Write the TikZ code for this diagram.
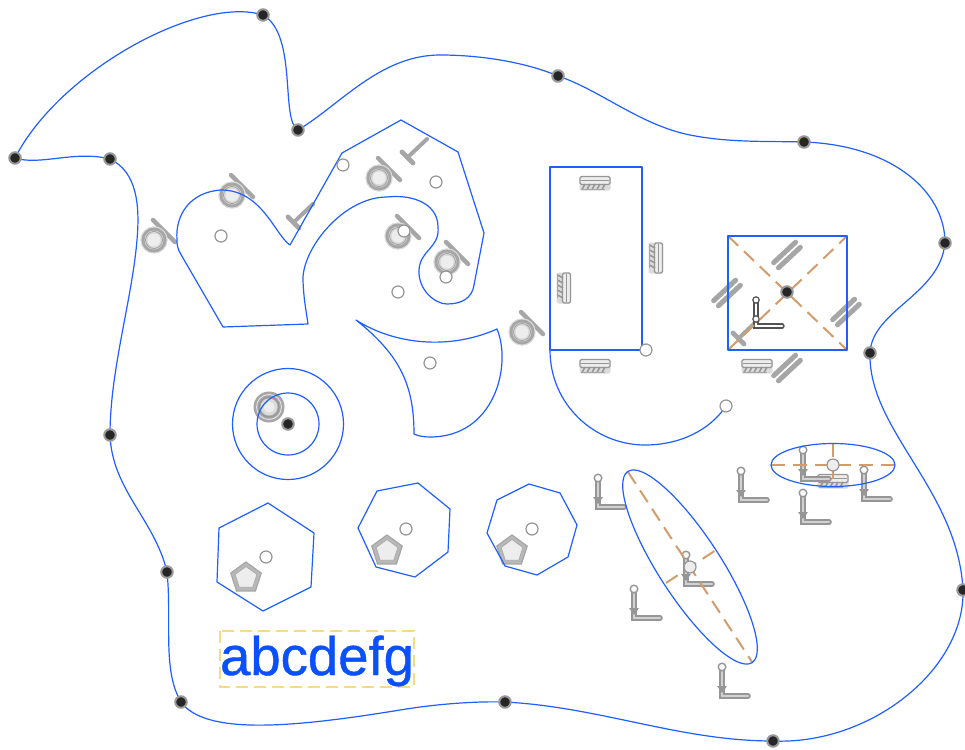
\documentclass[tikz,border=0pt]{standalone}
\usepackage{fontspec}
\setmainfont[FakeBold=0.8]{Liberation Sans}
\usetikzlibrary{shapes.geometric}
\definecolor{cblue}{HTML}{1F5FFF}
\definecolor{ctext}{HTML}{0A50FF}
\definecolor{corange}{HTML}{D29C6C}
\definecolor{cyell}{HTML}{F8D98A}
\definecolor{cgrey}{HTML}{A6A6A6}
\definecolor{cgreyd}{HTML}{969696}
\definecolor{cpale}{HTML}{EDEDED}
\tikzset{
  contour/.style={draw=cblue,line width=1.2pt,line join=round},
  axisline/.style={draw=corange,line width=2pt,dash pattern=on 14pt off 8pt},
  whitedot/.style={circle,draw=cgreyd,line width=1.2pt,fill=white,minimum size=12pt,inner sep=0pt},
  ivorydot/.style={circle,draw=cgreyd,line width=1.2pt,fill=cpale,minimum size=12pt,inner sep=0pt},
  blackdot/.style={circle,draw=black!40,line width=2pt,fill=black!85,minimum size=11.5pt,inner sep=0pt},
  iconbar/.style={draw=cgrey,line width=4.5pt,line cap=round},
  tangicon/.pic={
    \path[iconbar] (-1,-20) -- (21,2);
    \path[draw=cgrey!40,line width=1.4pt,fill=none] (0,0) circle (13);
    \fill[cgrey] (0,0) circle (12.5);
    \fill[cgrey!45] (0,0) circle (9.5);
    \draw[cgreyd,line width=0.6pt] (0,0) circle (8.5);
    \fill[cpale] (0,0) circle (6.5);
  },
  ticon/.pic={
    \path[iconbar,line width=4pt] (19,-18) -- (0,0);
    \path[iconbar,line width=4.8pt] (-6,-5) -- (5,6);
  },
  paricon/.pic={
    \path[iconbar,line width=5pt] (-15,-3.5) -- (15,-3.5);
    \path[iconbar,line width=5pt] (-15,3.5) -- (15,3.5);
  },
  hatchicon/.pic={
    \fill[cgrey!40,rounded corners=2pt] (-15.5,-7) rectangle (15.5,7.5);
    \draw[cgreyd,line width=1.2pt,fill=cpale,rounded corners=1.5pt] (-15,-6.5) rectangle (15,1.5);
    \draw[cgreyd,line width=1.6pt] (-14,-2.5) -- (14,-2.5);
    \foreach \hx in {-10,-5,0,5,10}{\draw[cgreyd,line width=1.5pt] (\hx,1) -- (\hx-3,6.5);}
    \draw[cgrey,line width=1.4pt] (-14,6.5) -- (10,6.5);
  },
  licon/.pic={
    \draw[cgreyd,line width=5.6pt,line cap=round] (0,-29) -- (0,0) -- (26,0);
    \draw[white!82!black,line width=2.4pt,line cap=round] (0,-29) -- (0,0) -- (26,0);
    \fill[cgreyd] (-5,-10) -- (5,-10) -- (0,-3) -- cycle;
    \draw[cgreyd,line width=1.4pt,fill=white] (0,-29) circle (3.8);
  },
  dlicon/.pic={
    \draw[black!68,line width=5.4pt,line cap=round] (0,-26) -- (0,0) -- (26,0);
    \draw[white,line width=2.6pt,line cap=round] (0,-26) -- (0,0) -- (26,0);
    \draw[black!68,line width=1.2pt,fill=white] (0,-26) circle (3.2);
    \draw[black!68,line width=1.2pt,fill=white] (0,-7) circle (3.2);
  },
  penticon/.pic={
    \node[regular polygon,regular polygon sides=5,minimum size=32pt,inner sep=0pt,draw=cgrey,line width=1.2pt,fill=cgrey!80] at (0,1) {};
    \node[regular polygon,regular polygon sides=5,minimum size=23pt,inner sep=0pt,draw=cgreyd!80,line width=0.8pt,fill=cpale] at (0,1) {};
  },
  ringicon/.pic={
    \fill[cgrey] (0,0) circle (15.5);
    \draw[cgrey!30,line width=0.9pt] (0,0) circle (12.5);
    \draw[cgreyd,line width=1pt] (0,0) circle (10);
    \fill[cgrey!40] (0,0) circle (8.5);
    \fill[cpale] (0,0) circle (5.5);
  },
}
\begin{document}
\begin{tikzpicture}[x=1pt,y=-1pt]
\useasboundingbox[fill=white] (0,0) rectangle (965,749);

% icons (under the contours)
\foreach \ix/\iy in {154/240,232/195,379/178,398/236,447/262,522/332}{\pic at (\ix,\iy) {tangicon};}
\pic at (408,157) {ticon};
\pic at (294,222) {ticon};
\pic at (739,338) {ticon};
\pic[rotate=43] at (787,255) {paricon};
\pic[rotate=43] at (727,293) {paricon};
\pic[rotate=43] at (846,312) {paricon};
\pic[rotate=43] at (787,368) {paricon};
\pic at (595,183) {hatchicon};
\pic at (595,366) {hatchicon};
\pic at (757,366) {hatchicon};
\pic at (833,481) {hatchicon};
\pic[rotate=-90] at (656,258) {hatchicon};
\pic[rotate=-90] at (564,288) {hatchicon};
\foreach \ix/\iy in {598/507,741/500,803/522,803/479,864/499,686/584,634/618,722/696}{\pic at (\ix,\iy) {licon};}
\pic at (756,326) {dlicon};
\foreach \ix/\iy in {246/577,387/550,512/550}{\pic at (\ix,\iy) {penticon};}
\pic at (269,407) {ringicon};

% outer contour
\path[contour] (15,158) .. controls (40,166) and (75,150) .. (110,159)
  .. controls (137,172) and (140,205) .. (137,240)
  .. controls (132,300) and (110,370) .. (110,435)
  .. controls (112,490) and (155,520) .. (167,572)
  .. controls (172,620) and (162,670) .. (181,702)
  .. controls (205,735) and (290,728) .. (400,710)
  .. controls (430,705) and (470,701) .. (505,702)
  .. controls (600,707) and (680,741) .. (773,741)
  .. controls (870,745) and (965,670) .. (963,590)
  .. controls (958,490) and (868,430) .. (870,353)
  .. controls (872,310) and (940,295) .. (945,243)
  .. controls (945,190) and (890,145) .. (804,142)
  .. controls (770,141) and (730,143) .. (690,135)
  .. controls (640,125) and (600,90) .. (558,76)
  .. controls (525,62) and (480,55) .. (440,55)
  .. controls (380,55) and (340,105) .. (298,130)
  .. controls (280,120) and (298,35) .. (263,15)
  .. controls (200,-5) and (60,70) .. (15,158);

% heart / spiral shape
\path[contour] (223,327) -- (308,324)
  .. controls (306,310) and (303,295) .. (303,277)
  .. controls (305,245) and (345,197) .. (387,197)
  .. controls (415,194) and (438,205) .. (438,227)
  .. controls (440,248) and (420,250) .. (419,270)
  .. controls (418,290) and (435,304) .. (447,304)
  .. controls (462,304) and (472,298) .. (474,285)
  -- (484,233) -- (458,152) -- (401,120) -- (342,153) -- (290,245)
  .. controls (275,235) and (262,190) .. (221,190)
  .. controls (190,192) and (175,215) .. (177,240)
  .. controls (177,250) and (180,252) .. (183,258)
  -- cycle;

% sail shape
\path[contour] (356,320) .. controls (395,345) and (450,350) .. (497,329)
  .. controls (512,365) and (495,437) .. (430,437)
  .. controls (424,437) and (418,436) .. (414,434)
  .. controls (414,385) and (400,355) .. (356,320) -- cycle;

% rectangle and arc
\path[contour] (550,167) rectangle (642,350);
\path[contour] (550,350) .. controls (550,405) and (595,445) .. (645,445)
  .. controls (680,445) and (710,430) .. (726,406);

% square
\path[axisline] (728,350) -- (847,236);
\path[axisline] (728,236) -- (847,350);
\path[contour] (728,236) rectangle (847,350);

% ellipses
\path[axisline] (628,472) -- (752,662);
\path[axisline] (666,583) -- (716,550);
\path[contour,rotate around={-57:(690,567)}] (690,567) ellipse [x radius=114,y radius=31];
\path[axisline] (771,465) -- (895,465);
\path[axisline] (833,443) -- (833,487);
\path[contour] (833,465) ellipse [x radius=62,y radius=21.5];

% circles
\path[contour] (288,424) circle (55.5);
\path[contour] (288,424) circle (31);

% polygons
\path[contour] (268,503) -- (314,533) -- (311,587) -- (263,611) -- (217,582) -- (219,528) -- cycle;
\path[contour] (418,483) -- (450,509) -- (448,552) -- (415,577) -- (376,567) -- (358,528) -- (377,491) -- cycle;
\path[contour] (529,484) -- (560,493) -- (577,525) -- (568,557) -- (537,575) -- (505,566) -- (487,533) -- (497,500) -- cycle;

% text
\draw[cyell,line width=1.4pt,dash pattern=on 12pt off 6pt] (220,631) rectangle (414,687);
\node[text=ctext,font=\fontsize{54.5}{60}\selectfont,inner sep=0pt,anchor=base] (label) at (317,675) {abcdefg};

% white points
\foreach \ix/\iy in {221/236,343/165,436/182,404/231,446/277,398/292,430/363,646/350,726/406,266/557,406/529,532/529}{\node[whitedot] at (\ix,\iy) {};}
\node[ivorydot] at (833,465) {};
\node[ivorydot] at (690,567) {};

% black points
\foreach \ix/\iy in {15/158,110/159,263/15,298/130,558/76,804/142,945/243,870/353,963/590,773/741,505/702,181/702,167/572,110/435,288/424,787/292}{\node[blackdot] at (\ix,\iy) {};}
\end{tikzpicture}
\end{document}
